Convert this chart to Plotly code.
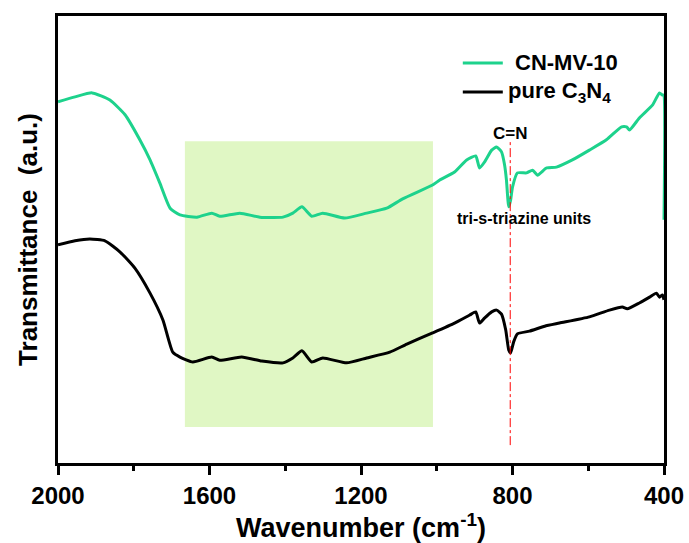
import plotly.graph_objects as go

# CN-MV-10 spectrum (wavenumber cm-1, transmittance a.u.)
cn_x = [2000, 1955, 1910, 1863, 1823, 1784, 1757, 1731, 1704, 1678, 1633, 1594, 1573, 1520,
        1467, 1406, 1380, 1356, 1330, 1301, 1243, 1185, 1132, 1090, 1011, 992, 953, 921, 897,
        887, 874, 855, 842, 829, 821, 816, 810, 805, 800, 787, 763, 747, 734, 710, 684, 642,
        597, 552, 512, 499, 491, 465, 430, 412, 404, 401, 400]
cn_y = [80.8, 81.9, 82.8, 81.2, 77.9, 72.3, 67.8, 62.6, 57.0, 55.5, 55.0, 55.9, 55.2, 55.9,
        55.0, 55.0, 55.9, 57.3, 55.2, 55.9, 54.8, 55.9, 57.0, 59.1, 62.2, 63.3, 65.1, 67.8, 68.7,
        66.0, 67.3, 70.0, 70.7, 69.6, 66.7, 63.3, 57.3, 58.8, 61.7, 64.9, 64.9, 65.5, 64.4, 66.0,
        66.2, 67.8, 70.0, 72.3, 75.2, 75.2, 74.5, 77.2, 80.1, 82.8, 82.3, 82.3, 54.4]

# pure C3N4 spectrum
pc_x = [2000, 1955, 1916, 1876, 1836, 1797, 1757, 1723, 1697, 1678, 1644, 1594, 1573, 1515,
        1462, 1406, 1380, 1356, 1330, 1301, 1238, 1185, 1124, 1079, 1011, 953, 913, 897, 887,
        874, 855, 842, 829, 818, 810, 805, 797, 787, 755, 715, 676, 597, 544, 510, 497, 465,
        438, 420, 412, 404, 400]
pc_y = [48.8, 49.7, 50.1, 49.7, 47.2, 43.6, 38.0, 32.0, 24.8, 23.7, 22.6, 23.7, 23.0, 23.7,
        22.8, 22.4, 23.5, 25.1, 22.6, 23.5, 22.4, 23.5, 24.8, 26.6, 29.1, 31.3, 33.1, 33.8, 31.3,
        32.4, 33.8, 34.2, 33.3, 29.8, 25.3, 24.6, 27.1, 28.9, 29.5, 30.6, 31.3, 32.7, 34.2, 34.9,
        34.5, 35.8, 37.1, 38.0, 37.1, 37.6, 36.5]

series_names = [" CN-MV-10", "pure C<sub>3</sub>N<sub>4</sub>"]
tick_vals = [2000, 1600, 1200, 800, 400]
minor_vals = [1800, 1400, 1000, 600]
band_x = [1665, 1010]
band_y = [8.05, 72.0]
cn_peak = 806

FONT = "Arial, Liberation Sans, sans-serif"
GREEN = "#1DD28C"
colors = [GREEN, "black"]

fig = go.Figure()
fig.add_trace(go.Scatter(x=cn_x, y=cn_y, mode="lines", name=series_names[0],
                         line=dict(color=GREEN, width=3, shape="spline", smoothing=0.5)))
fig.add_trace(go.Scatter(x=pc_x, y=pc_y, mode="lines", name=series_names[1],
                         line=dict(color="black", width=3, shape="spline", smoothing=0.5)))

fig.add_shape(type="rect", x0=band_x[0], x1=band_x[1], y0=band_y[0], y1=band_y[1],
              fillcolor="#E0F7C4", line=dict(width=0), layer="below")
fig.add_shape(type="line", x0=cn_peak, x1=cn_peak, y0=4, y1=72.3,
              line=dict(color="red", width=1, dash="dashdot"))

fig.add_annotation(x=cn_peak, y=73.8, text="C=N", showarrow=False,
                   font=dict(family=FONT, size=17, color="black", weight="bold"))
fig.add_annotation(x=769, y=54.8, text="tri-s-triazine units", showarrow=False,
                   font=dict(family=FONT, size=16, color="black", weight="bold"))

# manual legend
leg_y = [0.895, 0.830]
leg_tx = [0.751, 0.740]
for i in range(2):
    fig.add_shape(type="line", xref="paper", yref="paper", x0=0.668, x1=0.734,
                  y0=leg_y[i], y1=leg_y[i], line=dict(color=colors[i], width=3))
    fig.add_annotation(xref="paper", yref="paper", x=leg_tx[i], y=leg_y[i],
                       xanchor="left", yanchor="middle", text=series_names[i].strip(),
                       showarrow=False,
                       font=dict(family=FONT, size=22, color="black", weight="bold"))

fig.update_layout(
    width=689, height=543,
    margin=dict(l=58, r=25, t=16, b=80),
    paper_bgcolor="white", plot_bgcolor="white",
    font=dict(family=FONT, color="black"),
    showlegend=False,
    xaxis=dict(range=[2000, 400], tickvals=tick_vals, automargin=False,
               ticks="outside", ticklen=9, tickwidth=2.5, tickcolor="black",
               minor=dict(tickvals=minor_vals, ticks="outside", ticklen=5, tickwidth=2.5,
                          tickcolor="black"),
               showline=True, linewidth=3, linecolor="black", mirror=True,
               showgrid=False, zeroline=False,
               tickfont=dict(family=FONT, size=24, color="black", weight="bold"),
               title=dict(text="Wavenumber (cm<sup>-1</sup>)", standoff=5,
                          font=dict(family=FONT, size=27, color="black", weight="bold"))),
    yaxis=dict(range=[0, 100], showticklabels=False, ticks="", automargin=False,
               showline=True, linewidth=3, linecolor="black", mirror=True,
               showgrid=False, zeroline=False,
               title=dict(text="Transmittance  (a.u.)", standoff=10,
                          font=dict(family=FONT, size=26, color="black", weight="bold"))),
)

fig.write_html("out.html")
